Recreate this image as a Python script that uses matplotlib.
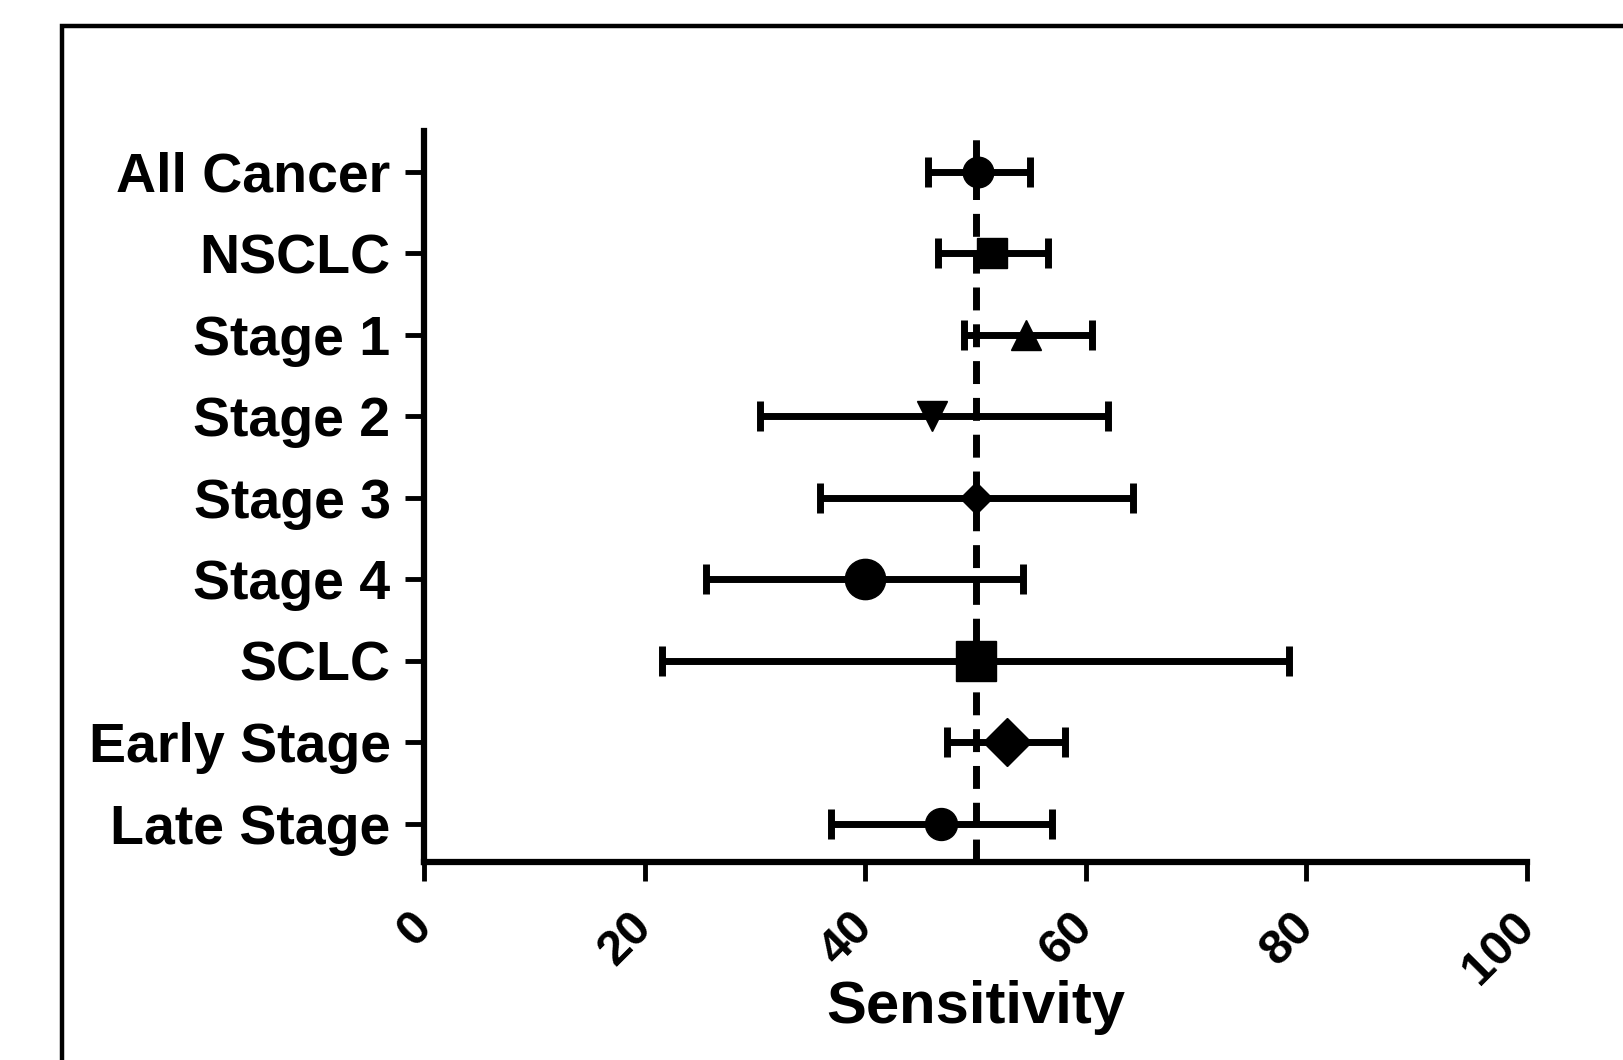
import matplotlib
matplotlib.use('Agg')
import matplotlib.pyplot as plt
from matplotlib.patches import Rectangle

# groups from top to bottom
groups = ['All Cancer', 'NSCLC', 'Stage 1', 'Stage 2', 'Stage 3',
          'Stage 4', 'SCLC', 'Early Stage', 'Late Stage']
sens = [50.2, 51.5, 54.6, 46.1, 50.0, 40.0, 50.0, 52.9, 46.9]
ci_low = [45.7, 46.6, 49.0, 30.5, 35.9, 25.6, 21.6, 47.4, 36.9]
ci_high = [54.9, 56.6, 60.6, 62.0, 64.3, 54.3, 78.4, 58.1, 56.9]
markers = ['o', 's', '^', 'v', 'D', 'o', 's', 'D', 'o']
msizes = [22, 22, 22, 22, 16, 29, 29, 24, 23]
ref_line = 50
xticks = [0, 20, 40, 60, 80, 100]

plt.rcParams['font.family'] = ['Liberation Sans', 'DejaVu Sans']
plt.rcParams['font.weight'] = 'bold'

fig = plt.figure(figsize=(16.23, 10.60), dpi=100)
ax = fig.add_axes([0.2612, 0.1868, 0.6797, 0.6896])

# outer frame, cut off by the image edge on the right and bottom
frame = Rectangle((62 / 1623, -0.2), 1.3, 1.2 - 26 / 1060, transform=fig.transFigure,
                  fill=False, lw=3.2, edgecolor='black', clip_on=False)
fig.patches.append(frame)

ax.axvline(ref_line, color='black', lw=5, dashes=(3.3, 2.0), zorder=1)

for i in range(len(groups)):
    ax.errorbar(sens[i], i, xerr=[[sens[i] - ci_low[i]], [ci_high[i] - sens[i]]],
                fmt=markers[i], color='black', ms=msizes[i], elinewidth=5,
                capsize=11, capthick=5, zorder=3)

ax.set_xlim(0, 100)
ax.set_ylim(len(groups) - 0.53, -0.5)
ax.set_yticks(range(len(groups)))
ax.set_yticklabels(groups, fontsize=40, fontweight='bold')
ax.set_xticks(xticks)
ax.set_xticklabels([str(t) for t in xticks], fontsize=35, fontweight='bold',
                   rotation=45, ha='right', va='center', rotation_mode='anchor')
ax.set_xlabel('Sensitivity', fontsize=43, fontweight='bold', labelpad=-10)

for s in ['top', 'right']:
    ax.spines[s].set_visible(False)
for s in ['left', 'bottom']:
    ax.spines[s].set_linewidth(4.5)
ax.tick_params(axis='both', width=3.5, length=14, direction='out')
ax.tick_params(axis='y', pad=10)
ax.tick_params(axis='x', pad=28)

fig.savefig('out.png', dpi=100)
